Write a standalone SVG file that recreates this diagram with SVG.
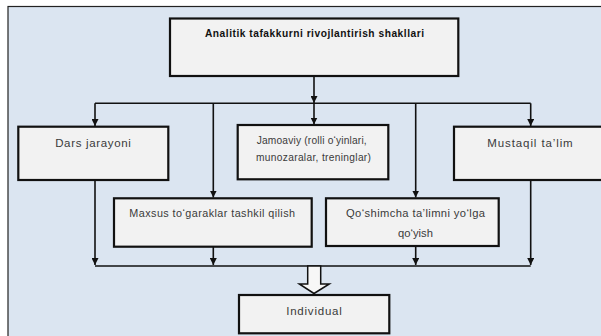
<svg xmlns="http://www.w3.org/2000/svg" width="601" height="336" viewBox="0 0 601 336">
<defs>
<style>
.box{fill:#f2f2f2;stroke:#111;stroke-width:2.2}
.con{fill:none;stroke:#111;stroke-width:1.6}
.t{font-family:"Liberation Sans",Arial,sans-serif;fill:#3a3a3a;text-anchor:middle}
.tb{font-family:"Liberation Sans",Arial,sans-serif;fill:#111;font-weight:bold;text-anchor:middle}
</style>
<marker id="ah" viewBox="0 0 8 8" refX="8" refY="4" markerWidth="7" markerHeight="7" markerUnits="userSpaceOnUse" orient="auto">
<path d="M0,0 L8,4 L0,8 Z" fill="#111"/>
</marker>
</defs>
<rect x="0" y="0" width="601" height="336" fill="#fff"/>
<rect x="8" y="6.5" width="600" height="340" fill="#dbe5f1" stroke="#222" stroke-width="1.2"/>

<g id="connectors">
<line class="con" x1="314" y1="76" x2="314" y2="103" marker-end="url(#ah)"/>
<line class="con" x1="95" y1="103.3" x2="530.7" y2="103.3"/>
<polyline class="con" points="95,103.3 95,126" marker-end="url(#ah)"/>
<line class="con" x1="314" y1="103.3" x2="314" y2="124.5" marker-end="url(#ah)"/>
<line class="con" x1="530.7" y1="103.3" x2="530.7" y2="126" marker-end="url(#ah)"/>
<line class="con" x1="213.3" y1="103.3" x2="213.3" y2="197.5" marker-end="url(#ah)"/>
<line class="con" x1="415.7" y1="103.3" x2="415.7" y2="197.5" marker-end="url(#ah)"/>
<line class="con" x1="95" y1="180" x2="95" y2="265" marker-end="url(#ah)"/>
<line class="con" x1="213.3" y1="246.7" x2="213.3" y2="265" marker-end="url(#ah)"/>
<line class="con" x1="415.7" y1="246" x2="415.7" y2="265" marker-end="url(#ah)"/>
<line class="con" x1="530.7" y1="180" x2="530.7" y2="265" marker-end="url(#ah)"/>
<line class="con" x1="95" y1="266" x2="530.7" y2="266"/>
<path d="M307.7,266 L320.7,266 L320.7,284 L329.3,284 L314,293.5 L299.3,284 L307.7,284 Z" fill="#f7f7f7" stroke="#111" stroke-width="1.5"/>
</g>

<g id="top">
<rect class="box" x="170" y="18.5" width="288.3" height="57.5"/>
<text class="tb" x="314.5" y="37" font-size="10.2" textLength="219">Analitik tafakkurni rivojlantirish shakllari</text>
</g>
<g id="dars">
<rect class="box" x="18.3" y="126.7" width="150" height="53.3"/>
<text class="t" x="93" y="146.5" font-size="11.5" textLength="75.7">Dars jarayoni</text>
</g>
<g id="jamoaviy">
<rect class="box" x="237.7" y="125" width="150.6" height="54.3"/>
<text class="t" x="311.7" y="144" font-size="10.2" textLength="110">Jamoaviy (rolli o‘yinlari,</text>
<text class="t" x="313.5" y="160.7" font-size="10.2" textLength="115">munozaralar, treninglar)</text>
</g>
<g id="mustaqil">
<rect class="box" x="454" y="126.7" width="154" height="53.3"/>
<text class="t" x="530" y="146.5" font-size="11.5" textLength="85.4">Mustaqil ta’lim</text>
</g>
<g id="maxsus">
<rect class="box" x="114" y="198.3" width="197.7" height="48.4"/>
<text class="t" x="212.2" y="217.3" font-size="10.8" textLength="165.7">Maxsus to‘garaklar tashkil qilish</text>
</g>
<g id="qoshimcha">
<rect class="box" x="326" y="198.3" width="172.7" height="47.7"/>
<text class="t" x="415.5" y="217.3" font-size="11.2" textLength="139">Qo‘shimcha ta’limni yo‘lga</text>
<text class="t" x="415.5" y="236.7" font-size="11.2">qo‘yish</text>
</g>
<g id="individual">
<rect class="box" x="239" y="295" width="150.3" height="38.3"/>
<text class="t" x="314" y="315" font-size="11.5" textLength="55.7">Individual</text>
</g>
</svg>
